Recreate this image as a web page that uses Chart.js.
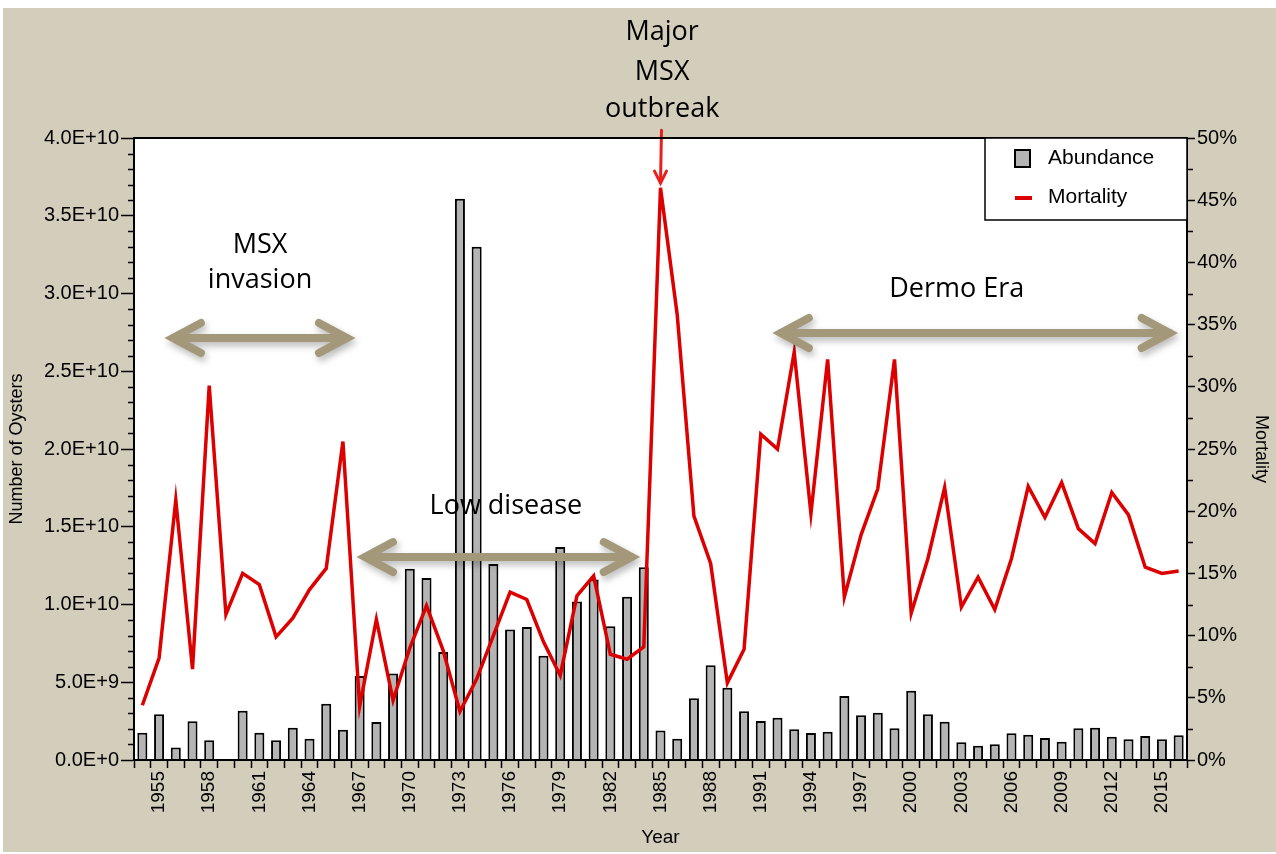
<!DOCTYPE html>
<html>
<head>
<meta charset="utf-8">
<title>Oyster abundance and mortality</title>
<script src="https://cdn.jsdelivr.net/npm/chart.js@4.4.1/dist/chart.umd.min.js"></script>
<style>
  html, body { margin: 0; padding: 0; background: #fff; }
  #wrap { width: 1276px; height: 854px; }
</style>
</head>
<body>
<div id="wrap"><canvas id="oysterChart" width="1276" height="854"></canvas></div>
<script>
// Survey years
const years = [
  1954, 1955, 1956, 1957, 1958, 1959, 1960, 1961, 1962, 1963,
  1964, 1965, 1966, 1967, 1968, 1969, 1970, 1971, 1972, 1973,
  1974, 1975, 1976, 1977, 1978, 1979, 1980, 1981, 1982, 1983,
  1984, 1985, 1986, 1987, 1988, 1989, 1990, 1991, 1992, 1993,
  1994, 1995, 1996, 1997, 1998, 1999, 2000, 2001, 2002, 2003,
  2004, 2005, 2006, 2007, 2008, 2009, 2010, 2011, 2012, 2013,
  2014, 2015, 2016
];

// Number of oysters per year
const abundance = [
  1.75e9, 2.95e9, 0.80e9, 2.50e9, 1.27e9, 0, 3.17e9, 1.76e9, 1.27e9, 2.08e9,
  1.37e9, 3.62e9, 1.95e9, 5.40e9, 2.44e9, 5.57e9, 1.23e10, 1.17e10, 6.95e9, 3.61e10,
  3.30e10, 1.26e10, 8.40e9, 8.55e9, 6.70e9, 1.37e10, 1.02e10, 1.16e10, 8.60e9, 1.05e10,
  1.24e10, 1.90e9, 1.37e9, 3.97e9, 6.10e9, 4.65e9, 3.13e9, 2.51e9, 2.72e9, 1.97e9,
  1.74e9, 1.82e9, 4.12e9, 2.87e9, 3.04e9, 2.04e9, 4.46e9, 2.94e9, 2.46e9, 1.14e9,
  0.92e9, 1.01e9, 1.72e9, 1.63e9, 1.41e9, 1.18e9, 2.04e9, 2.08e9, 1.50e9, 1.33e9,
  1.54e9, 1.33e9, 1.59e9
];

// Mortality, percent
const mortality = [
  4.4, 8.2, 20.9, 7.3, 30.1, 11.7, 15.0, 14.1, 9.9, 11.4,
  13.7, 15.4, 25.6, 4.3, 11.3, 4.8, 9.0, 12.4, 8.8, 3.9,
  6.5, 10.0, 13.5, 12.9, 9.5, 6.8, 13.2, 14.8, 8.5, 8.1,
  9.1, 46.0, 35.8, 19.6, 15.8, 6.2, 8.9, 26.2, 25.0, 32.8,
  19.8, 32.2, 13.1, 18.1, 21.8, 32.2, 11.8, 16.2, 21.9, 12.3,
  14.7, 12.1, 16.2, 22.0, 19.5, 22.3, 18.6, 17.4, 21.5, 19.7,
  15.5, 15.0, 15.2
];

// Years that get a label on the x axis
const labelYears = [1955, 1958, 1961, 1964, 1967, 1970, 1973, 1976, 1979, 1982,
  1985, 1988, 1991, 1994, 1997, 2000, 2003, 2006, 2009, 2012, 2015];

const TAN = '#a39879';
const RED = '#dd0000';
const xTickFont = { family: '"Liberation Sans", Arial, sans-serif', size: 19 };
const yTickFont = { family: '"Liberation Sans", Arial, sans-serif', size: 20 };
const titleFont = { family: '"Liberation Sans", Arial, sans-serif', size: 18 };
const noteFont = '27px "Open Sans", sans-serif';

function sci(v) {
  if (v === 0) return '0.0E+0';
  const e = Math.floor(Math.log10(v) + 1e-9);
  return (v / Math.pow(10, e)).toFixed(1) + 'E+' + e;
}

// page background, plot area and frame
const backdrop = {
  id: 'backdrop',
  beforeDraw(chart) {
    const { ctx, chartArea: a } = chart;
    ctx.save();
    ctx.fillStyle = '#fff';
    ctx.fillRect(0, 0, chart.width, chart.height);
    ctx.fillStyle = '#d3cdbb';
    ctx.fillRect(3, 8, chart.width - 3, chart.height - 10);
    ctx.fillStyle = '#fff';
    ctx.fillRect(a.left, a.top, a.width, a.height);
    ctx.restore();
  },
  afterDraw(chart) {
    const { ctx, chartArea: a } = chart;
    const ys = chart.scales.y, yr = chart.scales.y1;
    ctx.save();
    ctx.strokeStyle = '#000';
    ctx.lineWidth = 1.5;
    // minor ticks
    for (let v = 1e9; v < 4e10; v += 1e9) {
      if (Math.round(v / 1e9) % 5 === 0) continue;
      const y = Math.round(ys.getPixelForValue(v)) + 0.5;
      ctx.beginPath(); ctx.moveTo(a.left - 6, y); ctx.lineTo(a.left, y); ctx.stroke();
    }
    for (let v = 2.5; v < 50; v += 5) {
      const y = Math.round(yr.getPixelForValue(v)) + 0.5;
      ctx.beginPath(); ctx.moveTo(a.right, y); ctx.lineTo(a.right + 6, y); ctx.stroke();
    }
    ctx.lineWidth = 2;
    ctx.strokeRect(a.left, a.top, a.width, a.height);
    ctx.restore();
  }
};

function doubleArrow(ctx, x1, x2, y) {
  ctx.beginPath();
  ctx.moveTo(x1 + 8, y); ctx.lineTo(x2 - 8, y);
  ctx.moveTo(x1 + 36, y - 15); ctx.lineTo(x1 + 8, y); ctx.lineTo(x1 + 36, y + 15);
  ctx.moveTo(x2 - 36, y - 15); ctx.lineTo(x2 - 8, y); ctx.lineTo(x2 - 36, y + 15);
  ctx.stroke();
}

// period arrows and labels
const notes = {
  id: 'notes',
  afterDatasetsDraw(chart) {
    const { ctx } = chart;
    const xs = chart.scales.x, ys = chart.scales.y;
    const step = xs.width / years.length;
    const px = yr => xs.left + (yr - years[0] + 0.5) * step;
    const py = v => ys.getPixelForValue(v);

    ctx.save();
    ctx.strokeStyle = TAN;
    ctx.lineWidth = 8;
    ctx.lineCap = 'round';
    ctx.lineJoin = 'miter';
    ctx.shadowColor = 'rgba(0,0,0,0.28)';
    ctx.shadowBlur = 7;
    ctx.shadowOffsetX = 2;
    ctx.shadowOffsetY = 4;
    doubleArrow(ctx, px(1955.35), px(1966.72), py(2.714e10));
    doubleArrow(ctx, px(1966.84), px(1983.76), py(1.305e10));
    doubleArrow(ctx, px(1991.72), px(2015.94), py(2.746e10));
    ctx.restore();

    // outbreak pointer
    ctx.save();
    ctx.strokeStyle = '#e8201c';
    ctx.lineWidth = 3;
    ctx.lineCap = 'round';
    const ax = px(1985), top = py(4.05e10), tip = py(3.71e10);
    ctx.beginPath();
    ctx.moveTo(ax + 1, top); ctx.lineTo(ax, tip);
    ctx.moveTo(ax - 6, tip - 12); ctx.lineTo(ax, tip); ctx.lineTo(ax + 6, tip - 12);
    ctx.stroke();
    ctx.restore();

    ctx.save();
    ctx.fillStyle = '#000';
    ctx.font = noteFont;
    ctx.textAlign = 'center';
    ctx.textBaseline = 'alphabetic';
    ctx.fillText('Major', px(1985.1), py(4.63e10));
    ctx.fillText('MSX', px(1985.1), py(4.373e10));
    ctx.fillText('outbreak', px(1985.1), py(4.135e10));
    ctx.fillText('MSX', px(1961.04), py(3.26e10));
    ctx.fillText('invasion', px(1961.04), py(3.035e10));
    ctx.fillText('Low disease', px(1975.75), py(1.582e10));
    ctx.fillText('Dermo Era', px(2002.72), py(2.977e10));
    ctx.restore();
  },
  afterDraw(chart) {
    // legend box in the top right corner of the plot
    const { ctx, chartArea: a } = chart;
    const w = 202, h = 82, x0 = a.right - w, y0 = a.top;
    ctx.save();
    ctx.fillStyle = '#fff';
    ctx.fillRect(x0, y0, w, h);
    ctx.strokeStyle = '#000';
    ctx.lineWidth = 1.5;
    ctx.strokeRect(x0, y0, w, h);
    ctx.fillStyle = '#b4b4b4';
    ctx.fillRect(x0 + 30, y0 + 12, 15, 17);
    ctx.lineWidth = 2;
    ctx.strokeRect(x0 + 30, y0 + 12, 15, 17);
    ctx.strokeStyle = RED;
    ctx.lineWidth = 4;
    ctx.beginPath(); ctx.moveTo(x0 + 30, y0 + 60); ctx.lineTo(x0 + 47, y0 + 60); ctx.stroke();
    ctx.fillStyle = '#000';
    ctx.font = '21px "Liberation Sans", Arial, sans-serif';
    ctx.textBaseline = 'middle';
    ctx.fillText('Abundance', x0 + 63, y0 + 20);
    ctx.fillText('Mortality', x0 + 63, y0 + 59);
    ctx.restore();
  }
};

new Chart(document.getElementById('oysterChart'), {
  type: 'bar',
  data: {
    labels: years,
    datasets: [
      {
        type: 'line',
        label: 'Mortality',
        data: mortality,
        yAxisID: 'y1',
        borderColor: RED,
        borderWidth: 3.5,
        pointRadius: 0,
        tension: 0,
        fill: false,
        order: 0
      },
      {
        label: 'Abundance',
        data: abundance,
        yAxisID: 'y',
        backgroundColor: '#b4b4b4',
        borderColor: '#000',
        borderWidth: 2,
        borderSkipped: 'start',
        barPercentage: 0.6,
        categoryPercentage: 1,
        order: 1
      }
    ]
  },
  options: {
    responsive: false,
    devicePixelRatio: 1,
    animation: false,
    events: [],
    layout: { padding: { top: 138, left: 0, right: 0, bottom: 0 } },
    plugins: {
      legend: { display: false },
      tooltip: { enabled: false }
    },
    scales: {
      x: {
        offset: true,
        grid: { offset: true, drawOnChartArea: false, tickLength: 8, tickColor: '#000', tickWidth: 1.5 },
        border: { color: '#000', width: 2 },
        ticks: {
          autoSkip: false,
          minRotation: 90,
          maxRotation: 90,
          padding: 3,
          color: '#000',
          font: xTickFont,
          callback: function(value, index) {
            return labelYears.includes(years[index]) ? String(years[index]) : '';
          }
        },
        title: { display: true, text: 'Year', color: '#000', font: { family: titleFont.family, size: 19 }, padding: { top: 0, bottom: 5 } },
        afterFit: function(scale) { scale.height = 94; }
      },
      y: {
        position: 'left',
        min: 0,
        max: 4e10,
        grid: { drawOnChartArea: false, tickLength: 13, tickColor: '#000', tickWidth: 1.5 },
        border: { color: '#000', width: 2 },
        ticks: { stepSize: 5e9, padding: 2, color: '#000', font: yTickFont, callback: sci },
        title: { display: true, text: 'Number of Oysters', color: '#000', font: titleFont, padding: { top: 6, bottom: 0 } },
        afterFit: function(scale) { scale.width = 134; }
      },
      y1: {
        position: 'right',
        min: 0,
        max: 50,
        grid: { drawOnChartArea: false, tickLength: 8, tickColor: '#000', tickWidth: 1.5 },
        border: { color: '#000', width: 2 },
        ticks: {
          stepSize: 5, padding: 2, color: '#000', font: yTickFont,
          callback: function(value) { return value + '%'; }
        },
        title: { display: true, text: 'Mortality', color: '#000', font: titleFont, padding: { top: 4, bottom: 0 } },
        afterFit: function(scale) { scale.width = 89; }
      }
    }
  },
  plugins: [backdrop, notes]
});
</script>
</body>
</html>
